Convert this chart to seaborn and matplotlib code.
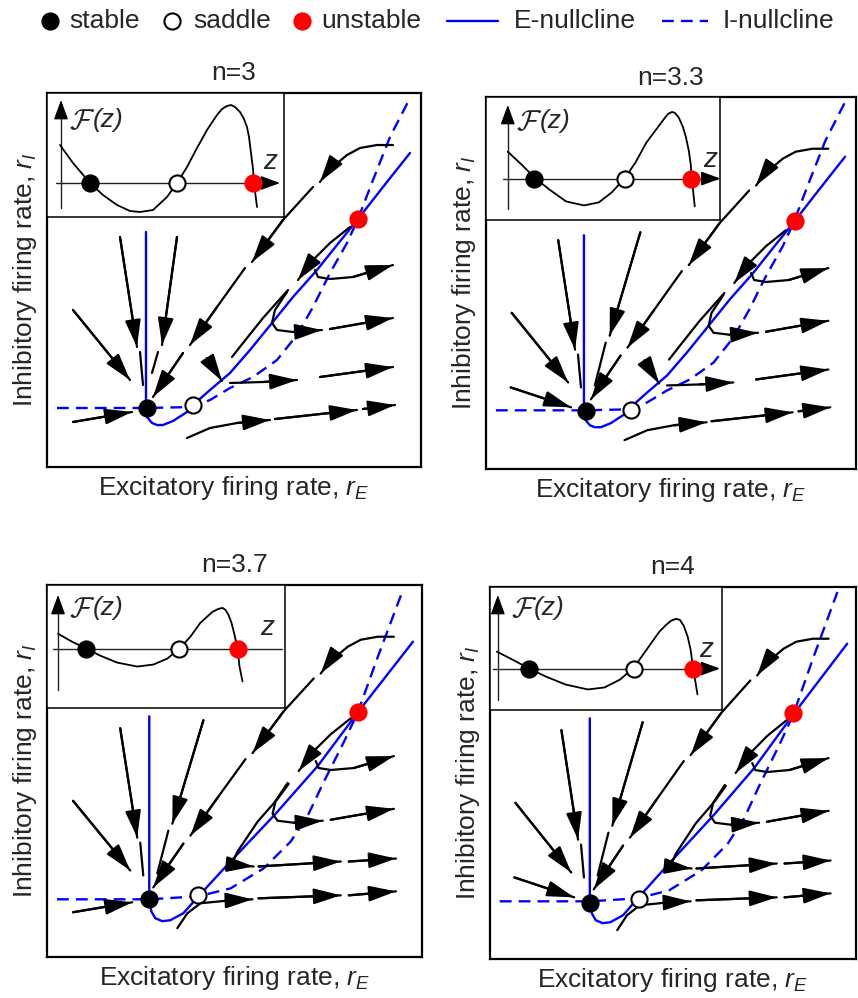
import matplotlib
matplotlib.use('Agg')
import matplotlib.pyplot as plt
import seaborn as sns

sns.set_style('white')
plt.rcParams['font.family'] = ['Liberation Sans', 'DejaVu Sans']
plt.rcParams['mathtext.fontset'] = 'custom'
plt.rcParams['mathtext.rm'] = 'Liberation Sans'
plt.rcParams['mathtext.it'] = 'Liberation Sans:italic'

# ---- data (schematic units; y grows downward) ----
titles = ['n=3', 'n=3.3', 'n=3.7', 'n=4']

stable_x = [100, 101, 102, 102]
stable_y = [315, 316, 316, 318]
saddle_x = [146, 147, 151, 152]
saddle_y = [312, 315, 312, 314]
unstable_x = [311, 312, 310, 310]
unstable_y = [126, 125, 128, 127]

e_null_top_x = [99, 99, 100, 105, 110, 116, 126, 140, 146, 163, 183, 203, 225, 246, 270, 290, 311, 336, 363]
e_null_top_y = [139, 315, 324, 330, 332, 332, 328, 319, 312, 297, 280, 257, 230, 204, 177, 152, 126, 94, 60]
i_null_top_x = [10, 99, 146, 163, 183, 206, 230, 250, 266, 283, 300, 311, 326, 343, 363]
i_null_top_y = [315, 315, 314, 307, 295, 284, 267, 242, 214, 180, 150, 126, 87, 44, 5]

e_null_bot_x = [102, 102, 104, 108, 115, 123, 136, 151, 183, 228, 270, 310, 365]
e_null_bot_y = [132, 315, 328, 335, 338, 337, 330, 313, 278, 230, 182, 128, 57]
i_null_bot_x = [10, 102, 151, 183, 216, 243, 260, 276, 296, 310, 330, 355]
i_null_bot_y = [316, 316, 313, 305, 285, 258, 232, 198, 158, 128, 72, 5]

# trajectories: list of (points, arrow at end)
traj_upper = [([(346, 52), (330, 52), (313, 55), (300, 62), (288, 72), (278, 82), (273, 89)], True),
              ([(266, 94), (236, 127), (205, 169)], True),
              ([(198, 175), (170, 214), (143, 252)], True),
              ([(136, 260), (106, 304)], True)]
traj_red = [([(303, 134), (283, 150), (266, 167), (251, 187)], True)]
traj_turn_high = [([(268, 177), (271, 184), (283, 186), (306, 184), (346, 172)], True)]
traj_turn_mid = [([(240, 199), (228, 217), (225, 230), (230, 237), (246, 239), (275, 237)], True),
                 ([(283, 236), (346, 225)], True)]
traj_left_diag = [([(26, 217), (83, 287)], True)]
traj_left_vert = [([(73, 144), (90, 254)], True),
                  ([(93, 259), (96, 292)], False)]
traj_mid_vert_a = [([(130, 144), (115, 252)], True),
                   ([(111, 259), (105, 280)], False)]
traj_mid_vert_b = [([(156, 136), (125, 240)], True),
                   ([(121, 247), (110, 290)], False)]
traj_low_left_a = [([(26, 329), (85, 319)], True)]
traj_low_left_b = [([(25, 292), (86, 312)], True)]

traj_slide_top = [([(241, 197), (216, 225), (196, 250), (185, 264)], False),
                  ([(160, 265), (175, 288)], True)]
traj_row3_top = [([(183, 290), (216, 289), (250, 287)], True),
                 ([(273, 284), (346, 274)], True)]
traj_row4_top = [([(140, 345), (163, 335), (190, 330), (223, 327)], True),
                 ([(228, 326), (310, 317)], True),
                 ([(316, 316), (348, 312)], True)]

traj_slide_bot = [([(241, 200), (230, 215), (210, 238), (190, 268), (186, 277)], False),
                  ([(184, 281), (206, 283)], True)]
traj_row3_bot = [([(211, 283), (293, 278)], True),
                 ([(301, 278), (348, 275)], True)]
traj_row4_bot = [([(130, 345), (140, 330), (153, 320), (183, 317), (205, 316)], True),
                 ([(211, 315), (293, 312)], True),
                 ([(301, 312), (348, 308)], True)]

# inset potential F(z)
inset_n3_x = [13, 26, 43, 56, 70, 83, 93, 106, 120, 130, 140, 150, 160, 170, 175, 180, 184, 188, 193, 197, 200, 202, 204, 206, 207, 210]
inset_n3_y = [52, 70, 90, 102, 112, 118, 119, 117, 104, 90, 74, 55, 37, 22, 16, 13, 12, 14, 19, 26, 34, 44, 60, 76, 90, 114]
inset_n33_x = [22, 36, 49, 64, 81, 99, 114, 127, 140, 151, 162, 174, 180, 184, 188, 191, 195, 199, 202, 205, 207, 208, 211]
inset_n33_y = [55, 68, 81, 93, 105, 109, 106, 96, 82, 66, 46, 30, 22, 17, 15, 16, 21, 30, 40, 54, 68, 82, 110]
inset_n37_x = [11, 25, 39, 53, 70, 90, 106, 120, 132, 143, 153, 165, 171, 175, 178, 181, 184, 187, 190, 192, 195]
inset_n37_y = [49, 57, 64, 71, 78, 82, 80, 74, 64, 52, 38, 27, 24, 23, 25, 30, 38, 50, 64, 82, 97]
inset_n4_x = [7, 23, 40, 57, 77, 100, 117, 133, 147, 160, 173, 180, 185, 190, 194, 198, 202, 205, 207, 209, 212]
inset_n4_y = [65, 73, 82, 90, 98, 103, 101, 93, 81, 63, 45, 38, 34, 32, 33, 39, 50, 63, 78, 90, 108]
inset_curves = [(inset_n3_x, inset_n3_y), (inset_n33_x, inset_n33_y),
                (inset_n37_x, inset_n37_y), (inset_n4_x, inset_n4_y)]
inset_stable_x = [43, 49, 39, 40]
inset_saddle_x = [130, 140, 132, 147]
inset_unstable_x = [206, 207, 190, 207]

# ---- layout ----
panel_px = [(47, 93, 421, 467), (486, 97, 856, 469), (47, 585, 422, 957), (490, 587, 856, 959)]
inset_axis_y = [90, 82, 64, 82]
inset_vaxis = [(14, 115, 7), (22, 113, 8), (11, 106, 10), (8, 114, 8)]
inset_haxis = [(9, 233), (17, 237), (6, 238), (3, 235)]
inset_flabel = [(22, 27), (30, 24), (22, 23), (21, 21)]
inset_zlabel = [(223, 69), (227, 63), (220, 43), (221, 63)]

BLUE = '#0000ff'
RED = '#ff0000'
DOT = 135
FS = 19
HEAD = dict(arrowstyle='-|>,head_length=0.55,head_width=0.16', mutation_scale=30,
            color='k', lw=1.6, shrinkA=0, shrinkB=0)


def draw_traj(ax, segs):
    for pts, arrow in segs:
        xs = [p[0] for p in pts]
        ys = [p[1] for p in pts]
        sns.lineplot(x=xs, y=ys, sort=False, estimator=None, color='k', lw=1.6, ax=ax)
        if arrow:
            ax.annotate('', xy=pts[-1], xytext=pts[-2], arrowprops=HEAD)


def draw_points(ax, xs, ys, face, edge):
    sns.scatterplot(x=xs, y=ys, s=DOT, color=face, edgecolor=edge, linewidth=1.5,
                    zorder=6, ax=ax, legend=False)


fig = plt.figure(figsize=(8.58, 9.98), dpi=100)

for i in range(4):
    l, t, r, b = panel_px[i]
    ax = fig.add_axes([l / 858, 1 - b / 998, (r - l) / 858, (b - t) / 998])
    top = i < 2
    ex, ey = (e_null_top_x, e_null_top_y) if top else (e_null_bot_x, e_null_bot_y)
    ix, iy = (i_null_top_x, i_null_top_y) if top else (i_null_bot_x, i_null_bot_y)
    sns.lineplot(x=ex, y=ey, sort=False, estimator=None, color=BLUE, lw=1.7, ax=ax)
    sns.lineplot(x=ix, y=iy, sort=False, estimator=None, color=BLUE, lw=1.7,
                 ax=ax).lines[-1].set_dashes((5, 3))

    trajs = [traj_upper, traj_red, traj_turn_high, traj_turn_mid, traj_left_diag, traj_left_vert,
             traj_mid_vert_a if i == 0 else traj_mid_vert_b,
             traj_low_left_a if i % 2 == 0 else traj_low_left_b]
    if top:
        trajs += [traj_slide_top, traj_row3_top, traj_row4_top]
    else:
        trajs += [traj_slide_bot, traj_row3_bot, traj_row4_bot]
    for tr in trajs:
        draw_traj(ax, tr)

    draw_points(ax, [stable_x[i]], [stable_y[i]], 'k', 'k')
    draw_points(ax, [saddle_x[i]], [saddle_y[i]], 'white', 'k')
    draw_points(ax, [unstable_x[i]], [unstable_y[i]], RED, RED)

    ax.set_xlim(0, 374)
    ax.set_ylim(374, 0)
    ax.set_xticks([])
    ax.set_yticks([])
    for s in ax.spines.values():
        s.set_visible(True)
        s.set_color('k')
        s.set_linewidth(1.6)
    ax.set_title(titles[i], fontsize=FS, pad=9)
    ax.set_xlabel('Excitatory firing rate, $r_E$', fontsize=FS, labelpad=5)
    ax.set_ylabel('Inhibitory firing rate, $r_I$', fontsize=FS, labelpad=6)

    # inset
    ins = ax.inset_axes([0, 1 - 124 / 374, 237 / 374, 124 / 374])
    ins.set_facecolor('white')
    ins.set_xlim(0, 237)
    ins.set_ylim(124, 0)
    ins.set_xticks([])
    ins.set_yticks([])
    for s in ins.spines.values():
        s.set_visible(True)
        s.set_color('k')
        s.set_linewidth(1.1)
    ay = inset_axis_y[i]
    vx, vb, vt = inset_vaxis[i]
    hx0, hx1 = inset_haxis[i]
    ax_head = dict(arrowstyle='-|>,head_length=0.6,head_width=0.22', mutation_scale=20,
                   color='k', lw=1.0, shrinkA=0, shrinkB=0)
    ins.plot([hx0, hx1 - 4], [ay, ay], color='#222222', lw=1.0)
    ins.annotate('', xy=(hx1, ay), xytext=(hx1 - 8, ay), arrowprops=ax_head)
    ins.plot([vx, vx], [vb, vt + 4], color='#222222', lw=1.0)
    ins.annotate('', xy=(vx, vt), xytext=(vx, vt + 8), arrowprops=ax_head)
    cx, cy = inset_curves[i]
    sns.lineplot(x=cx, y=cy, sort=False, estimator=None, color='k', lw=1.3, ax=ins)
    draw_points(ins, [inset_stable_x[i]], [ay], 'k', 'k')
    draw_points(ins, [inset_saddle_x[i]], [ay], 'white', 'k')
    draw_points(ins, [inset_unstable_x[i]], [ay], RED, RED)
    fx, fy = inset_flabel[i]
    ins.text(fx, fy + 1, r'$\mathcal{F}$', fontsize=21, ha='left', va='center',
             math_fontfamily='cm')
    ins.text(fx + 24, fy, '(z)', fontsize=19, style='italic', ha='left', va='center')
    zx, zy = inset_zlabel[i]
    ins.text(zx, zy, 'z', fontsize=20, style='italic', ha='center', va='center')
    ins.set_xlabel('')
    ins.set_ylabel('')

# legend strip
lg = fig.add_axes([0, 1 - 42 / 998, 1, 42 / 998])
lg.set_xlim(0, 858)
lg.set_ylim(42, 0)
lg.axis('off')
ly = 21
draw_points(lg, [50], [ly], 'k', 'k')
lg.text(69, ly, 'stable', fontsize=FS, va='center')
draw_points(lg, [172], [ly], 'white', 'k')
lg.text(193, ly, 'saddle', fontsize=FS, va='center')
draw_points(lg, [302], [ly], RED, RED)
lg.text(321, ly, 'unstable', fontsize=FS, va='center')
lg.plot([447, 498], [ly, ly], color=BLUE, lw=1.7)
lg.text(514, ly, 'E-nullcline', fontsize=FS, va='center')
lg.plot([662, 708], [ly, ly], color=BLUE, lw=1.7, dashes=(5, 3))
lg.text(723, ly, 'I-nullcline', fontsize=FS, va='center')

fig.savefig('out.png', dpi=100)
